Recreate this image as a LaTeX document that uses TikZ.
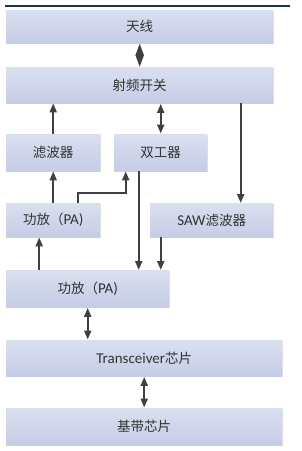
\documentclass[tikz,border=0pt]{standalone}
\usepackage{fontspec}
\setmainfont{Carlito}
\newfontfamily\cjk{Noto Sans CJK SC}
\usetikzlibrary{positioning,arrows.meta,shadows}
\definecolor{rfline}{HTML}{1E3248}
\definecolor{rftop}{HTML}{DADFF0}
\definecolor{rfbot}{HTML}{C6CCE5}
\definecolor{rfink}{HTML}{333333}
\definecolor{rfarrow}{HTML}{404040}
\tikzset{
  blk/.style  ={anchor=north west, top color=rftop, bottom color=rfbot, draw=none,
                inner sep=0pt, text=rfink, font=\fontsize{15}{17}\selectfont,
                drop shadow={shadow xshift=1.2pt, shadow yshift=-1.2pt,
                             fill=black, opacity=0.12}},
  sig/.style  ={-{Triangle[length=9pt,width=7pt]}, draw=rfarrow, line width=2pt},
  both/.style ={{Triangle[length=9pt,width=7pt]}-{Triangle[length=9pt,width=7pt]},
                draw=rfarrow, line width=2pt, shorten <=0.5pt, shorten >=0.5pt},
  diam/.style ={{Triangle[length=12pt,width=8pt]}-{Triangle[length=12pt,width=8pt]},
                draw=rfarrow, line width=2pt},
}
\newcommand{\zh}[1]{{\cjk\fontsize{13.5}{16}\selectfont #1}}

\begin{document}
\begin{tikzpicture}[x=1pt,y=-1pt]
  \useasboundingbox (0,0) rectangle (301,451);
  \draw[rfline, line width=1.2pt] (5,6) -- (290,6);

  % ---- the blocks ----------------------------------------------------------
  \node[blk, minimum width=267pt, minimum height=33pt] (antenna)  at (6,10)  {\zh{天线}};
  \node[blk, minimum width=267pt, minimum height=36pt] (rfswitch) at (6,67)  {\zh{射频开关}};
  \node[blk, minimum width=94pt,  minimum height=37pt] (filter)   at (6,134) {\zh{滤波器}};
  \node[blk, minimum width=93pt,  minimum height=37pt] (duplexer) at (114,134) {\zh{双工器}};
  \node[blk, minimum width=94pt,  minimum height=34pt] (pasmall)  at (6,203) {\zh{功放（}PA)};
  \node[blk, minimum width=123pt, minimum height=34pt] (saw)      at (150,203) {SAW\zh{滤波器}};
  \node[blk, minimum width=163pt, minimum height=37pt] (pabig)    at (6,270) {\zh{功放（}PA)};
  \node[blk, minimum width=276pt, minimum height=36pt] (trx)      at (6,340) {Transceiver\zh{芯片}};
  \node[blk, minimum width=276pt, minimum height=37pt] (baseband) at (6,408) {\zh{基带芯片}};

  % ---- the connectors ------------------------------------------------------
  \draw[diam] (antenna.south) -- (rfswitch.north);
  \draw[sig] (filter.north) -- (rfswitch.south -| filter.north);
  \draw[both] (duplexer.north) -- (rfswitch.south -| duplexer.north);
  \coordinate (swtap) at ([xshift=29pt]saw.north);
  \draw[sig] (rfswitch.south -| swtap) -- (swtap);

  \draw[sig] (pasmall.north) -- (filter.south);
  \draw[sig] ([xshift=25pt]pasmall.north) -- ++(0,-10)
    -| ([xshift=-35pt]duplexer.south);
  \coordinate (dxtap) at ([xshift=-22pt]duplexer.south);
  \draw[sig] (dxtap) -- (pabig.north -| dxtap);
  \coordinate (sawtap) at ([xshift=-51pt]saw.south);
  \draw[sig] (sawtap) -- (pabig.north -| sawtap);
  \coordinate (patap) at ([xshift=-14pt]pasmall.south);
  \draw[sig] (pabig.north -| patap) -- (patap);

  \draw[both] (pabig.south) -- (trx.north -| pabig.south);
  \draw[both] (trx.south) -- (baseband.north);
\end{tikzpicture}
\end{document}
